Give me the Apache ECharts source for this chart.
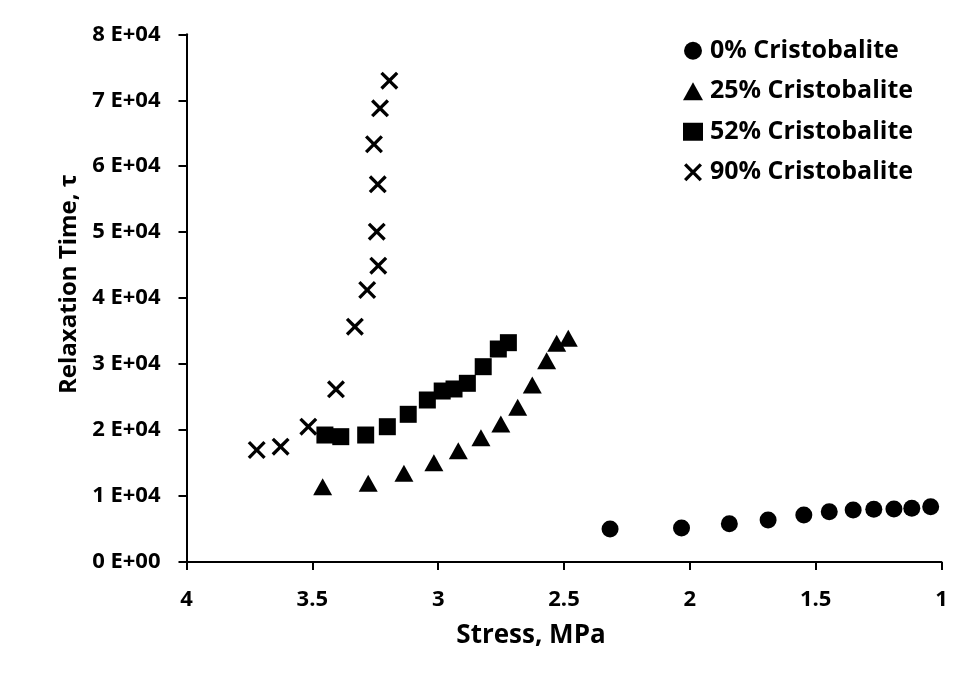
<!DOCTYPE html>
<html>
<head>
<meta charset="utf-8">
<script src="https://cdn.jsdelivr.net/npm/echarts@6/dist/echarts.min.js"></script>
<style>
  html, body { margin: 0; padding: 0; background: #fff; }
  #chart { width: 955px; height: 675px; }
</style>
</head>
<body>
<div id="chart"></div>
<script>
// Stress (MPa) and relaxation time (s) for each cristobalite content
const stress0 = [2.317, 2.033, 1.843, 1.689, 1.547, 1.446, 1.351, 1.269, 1.189, 1.118, 1.043];
const tau0 = [5000, 5150, 5810, 6370, 7130, 7630, 7880, 7990, 8040, 8140, 8380];

const stress25 = [3.459, 3.278, 3.136, 3.017, 2.920, 2.830, 2.751, 2.684, 2.626, 2.569, 2.529, 2.483];
const tau25 = [11420, 11930, 13450, 15050, 16870, 18840, 20920, 23450, 26830, 30520, 33160, 33910];

const stress52 = [3.450, 3.387, 3.288, 3.202, 3.119, 3.043, 2.984, 2.937, 2.884, 2.821, 2.761, 2.721];
const tau52 = [19250, 19000, 19250, 20510, 22390, 24560, 25920, 26230, 27090, 29610, 32290, 33250];

const stress90 = [3.721, 3.626, 3.516, 3.406, 3.331, 3.282, 3.238, 3.244, 3.240, 3.255, 3.231, 3.194];
const tau90 = [16980, 17480, 20510, 26180, 35670, 41240, 44920, 50080, 57260, 63330, 68780, 72970];

const seriesNames = ['0% Cristobalite', '25% Cristobalite', '52% Cristobalite', '90% Cristobalite'];

const FONT = '"Open Sans", Lato, sans-serif';
// filled "x" marker outline
const CROSS = 'path://M1.3,0L5,3.7L8.7,0L10,1.3L6.3,5L10,8.7L8.7,10L5,6.3L1.3,10L0,8.7L3.7,5L0,1.3Z';

function pairs(xs, ys) {
  return xs.map((x, i) => [x, ys[i]]);
}

const chart = echarts.init(document.getElementById('chart'), null, { renderer: 'canvas' });

const solid = { color: '#000', opacity: 1 };

const option = {
  backgroundColor: '#ffffff',
  animation: false,
  grid: { left: 186.5, right: 13.5, top: 34.3, bottom: 113 },
  legend: {
    orient: 'vertical',
    left: 678,
    top: 28,
    itemGap: 5,
    itemWidth: 20,
    itemHeight: 18,
    textStyle: {
      fontFamily: FONT, fontWeight: 'bold', fontSize: 25, color: '#000',
      lineHeight: 35.5, padding: [0, 0, 0, 2]
    },
    data: [
      { name: seriesNames[0], icon: 'circle' },
      { name: seriesNames[1], icon: 'triangle' },
      { name: seriesNames[2], icon: 'rect' },
      { name: seriesNames[3], icon: CROSS }
    ]
  },
  xAxis: {
    type: 'value',
    inverse: true,
    min: 1,
    max: 4,
    interval: 0.5,
    name: 'Stress, MPa',
    nameLocation: 'middle',
    nameGap: 61,
    nameTextStyle: {
      fontFamily: FONT, fontWeight: 'bold', fontSize: 26, color: '#000',
      padding: [0, 66, 0, 0]
    },
    axisLine: { show: true, onZero: false, lineStyle: { color: '#000', width: 2 } },
    axisTick: { show: true, inside: false, length: 8, lineStyle: { color: '#000', width: 2 } },
    axisLabel: { fontFamily: FONT, fontWeight: 'bold', fontSize: 22, color: '#000', margin: 27 },
    splitLine: { show: false }
  },
  yAxis: {
    type: 'value',
    min: 0,
    max: 80000,
    interval: 10000,
    name: 'Relaxation Time, \u03c4',
    nameLocation: 'middle',
    nameGap: 98,
    nameRotate: 90,
    nameTextStyle: {
      fontFamily: FONT, fontWeight: 'bold', fontSize: 24, color: '#000',
      padding: [0, 0, 0, 28]
    },
    axisLine: { show: true, lineStyle: { color: '#000', width: 2 } },
    axisTick: { show: true, inside: false, length: 8, lineStyle: { color: '#000', width: 2 } },
    axisLabel: {
      fontFamily: FONT, fontWeight: 'bold', fontSize: 22, color: '#000', margin: 26,
      formatter: v => v === 0 ? '0 E+00' : (v / 10000) + ' E+04'
    },
    splitLine: { show: false }
  },
  series: [
    {
      name: seriesNames[0], type: 'scatter', symbol: 'circle', symbolSize: 17,
      itemStyle: solid, data: pairs(stress0, tau0)
    },
    {
      name: seriesNames[1], type: 'scatter', symbol: 'triangle', symbolSize: [19, 17],
      itemStyle: solid, data: pairs(stress25, tau25)
    },
    {
      name: seriesNames[2], type: 'scatter', symbol: 'rect', symbolSize: 17,
      itemStyle: solid, data: pairs(stress52, tau52)
    },
    {
      name: seriesNames[3], type: 'scatter', symbol: CROSS, symbolSize: 18,
      itemStyle: solid, data: pairs(stress90, tau90)
    }
  ]
};

chart.setOption(option);
</script>
</body>
</html>
